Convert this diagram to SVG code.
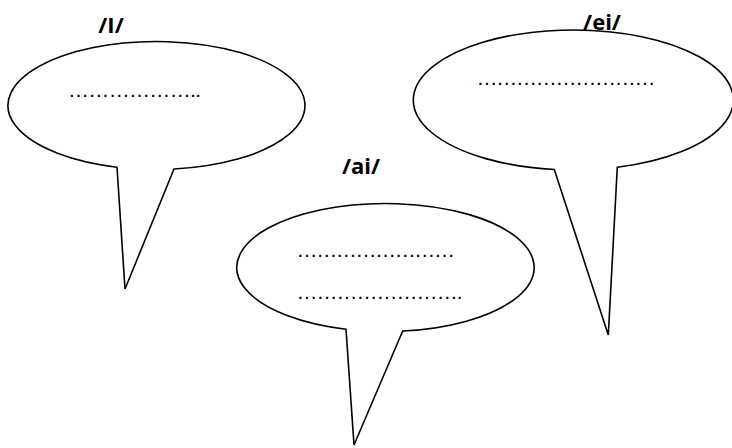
<svg xmlns="http://www.w3.org/2000/svg" width="732" height="448" viewBox="0 0 732 448">
<style>
.bubble{fill:#fff;stroke:#000;stroke-width:1.6;stroke-linejoin:miter}
.lbl{font-family:"Open Sans","Liberation Sans",sans-serif;font-weight:bold;font-size:22px;fill:#000;text-anchor:middle}
.dots{font-family:"Liberation Sans",Arial,sans-serif;font-size:21px;fill:#000}
</style>
<rect width="732" height="448" fill="#fff"/>
<g id="bubble-I">
<path class="bubble" d="M117,167.2 L125,289 L174,169.05 A148.5,64 0 1 0 117,167.2 Z"/>
<text class="dots" x="68" y="96.5" textLength="133" lengthAdjust="spacing">………………..</text>
<text class="lbl" x="111" y="33">/I/</text>
</g>
<g id="bubble-ei">
<path class="bubble" d="M554.3,169.5 L608.3,335 L617.3,167.3 A160,70 0 1 0 554.3,169.5 Z"/>
<text class="dots" x="476.5" y="84.5" textLength="179" lengthAdjust="spacing">………………………</text>
<text class="lbl" x="602" y="29.5">/ei/</text>
</g>
<g id="bubble-ai">
<path class="bubble" d="M346,329.2 L354,445 L402.7,331.06 A148.7,64 0 1 0 346,329.2 Z"/>
<text class="dots" x="296.5" y="257" textLength="158.5" lengthAdjust="spacing">……………………</text>
<text class="dots" x="296.5" y="299" textLength="166" lengthAdjust="spacing">…………………….</text>
<text class="lbl" x="361" y="174">/ai/</text>
</g>
<g id="connectors"/>
</svg>
